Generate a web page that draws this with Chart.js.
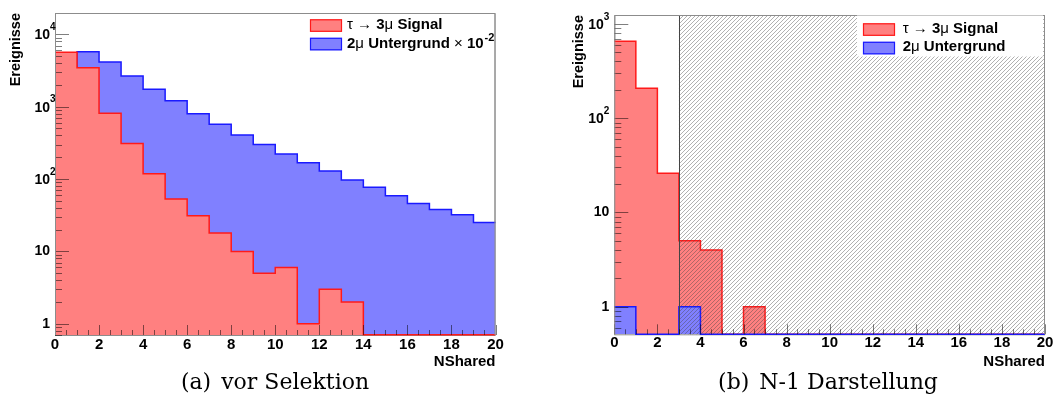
<!DOCTYPE html>
<html>
<head>
<meta charset="utf-8">
<script src="https://cdn.jsdelivr.net/npm/chart.js@4.4.1/dist/chart.umd.min.js"></script>
<style>
    body { margin: 0; background: #fff; width: 1053px; height: 396px; position: relative; overflow: hidden; }
    .panel { position: absolute; top: 0; }
    #panelA { left: 0; }
    #panelB { left: 527px; }
    .caption {
        position: absolute; top: 368px; height: 28px; line-height: 28px;
        font-family: "DejaVu Serif", serif; font-size: 22px; color: #000;
        white-space: nowrap; transform: translateX(-50%);
    }
    .caption span { margin-right: 3px; }
</style>
</head>
<body>
<div class="panel" id="panelA"><canvas id="chartA" width="520" height="396"></canvas></div>
<div class="panel" id="panelB"><canvas id="chartB" width="526" height="396"></canvas></div>
<div class="caption" style="left:275px"><span>(a)</span> vor Selektion</div>
<div class="caption" style="left:828px"><span>(b)</span> N-1 Darstellung</div>

<script>
// bin edges of NShared (20 bins of width 1)
const binEdges = [0, 1, 2, 3, 4, 5, 6, 7, 8, 9, 10, 11, 12, 13, 14, 15, 16, 17, 18, 19, 20];
const xTickLabels = [0, 2, 4, 6, 8, 10, 12, 14, 16, 18, 20];

// (a) vor Selektion
const signalAll = [5650, 3460, 810, 311, 118, 53, 31, 18, 10, 5, 6, 1, 3, 2, 0, 0, 0, 0, 0, 0];
const backgroundAll = [2360, 5750, 4150, 2650, 1740, 1210, 800, 570, 406, 301, 222, 168, 129, 97, 77, 59, 46, 38, 32, 25];
const yDecadesA = [1, 10, 100, 1000, 10000];
const legendLabelsA = ['τ → 3μ Signal', '2μ Untergrund × 10^-2'];

// (b) N-1 Darstellung
const signalN1 = [655, 208, 26, 5, 4, 0, 1, 0, 0, 0, 0, 0, 0, 0, 0, 0, 0, 0, 0, 0];
const backgroundN1 = [1, 0, 0, 1, 0, 0, 0, 0, 0, 0, 0, 0, 0, 0, 0, 0, 0, 0, 0, 0];
const yDecadesB = [1, 10, 100, 1000];
const legendLabelsB = ['τ → 3μ Signal', '2μ Untergrund'];
const cutN1 = 3;

const RED_LINE = '#ff1a1a';
const RED_FILL = '#ff8080';
const BLUE_LINE = '#1a1aff';
const BLUE_FILL = '#8080ff';
const FRAME = '#8c8c8c';
const FONT = '"Liberation Sans", Arial, sans-serif';


// ROOT-like histogram outline: each value is held until the next bin edge
function histPoints(values, floor) {
    const pts = values.map((v, i) => ({ x: binEdges[i], y: v > 0 ? v : floor }));
    const last = values[values.length - 1];
    pts.push({ x: binEdges[values.length], y: last > 0 ? last : floor });
    return pts;
}

function makeHatch() {
    const c = document.createElement('canvas');
    c.width = 4; c.height = 4;
    const g = c.getContext('2d');
    g.strokeStyle = 'rgba(70,70,70,0.42)';
    g.lineWidth = 1;
    g.beginPath();
    g.moveTo(-1, 5); g.lineTo(5, -1);
    g.moveTo(-1, 1); g.lineTo(1, -1);
    g.moveTo(3, 5); g.lineTo(5, 3);
    g.stroke();
    return c;
}

// text with bold latin and plain greek/symbols, "^" starts a superscript
function drawRich(ctx, text, x, y, size) {
    const [base, sup] = text.split('^');
    ctx.textBaseline = 'middle';
    ctx.textAlign = 'left';
    for (const ch of base) {
        const plain = 'τμ→×'.includes(ch);
        ctx.font = (plain ? '' : 'bold ') + size + 'px ' + FONT;
        ctx.fillText(ch, x, y);
        x += ctx.measureText(ch).width;
    }
    if (sup) {
        ctx.font = 'bold ' + Math.round(size * 0.7) + 'px ' + FONT;
        ctx.fillText(sup, x + 1, y - size * 0.4);
    }
}

function makeDecor(cfg) {
    return {
        id: 'rootDecor',
        beforeDatasetsDraw(chart) {
            const { ctx, chartArea: a } = chart;
            ctx.save();
            ctx.strokeStyle = FRAME;
            ctx.lineWidth = 1;
            ctx.strokeRect(a.left + 0.5, a.top + 0.5, a.right - a.left - 1, a.bottom - a.top);
            ctx.restore();
        },
        afterDatasetsDraw(chart) {
            const { ctx, chartArea: a } = chart;
            const xs = chart.scales.x, ys = chart.scales.y;
            ctx.save();

            // excluded region of the N-1 cut
            if (cfg.cut !== undefined) {
                const xc = xs.getPixelForValue(cfg.cut);
                ctx.fillStyle = ctx.createPattern(makeHatch(), 'repeat');
                ctx.fillRect(xc, a.top, a.right - xc, a.bottom - a.top);
                ctx.strokeStyle = '#444';
                ctx.lineWidth = 1;
                ctx.beginPath();
                ctx.moveTo(Math.round(xc) + 0.5, a.top);
                ctx.lineTo(Math.round(xc) + 0.5, a.bottom);
                ctx.stroke();
            }

            // ticks inside the frame
            ctx.strokeStyle = 'rgba(0,0,0,0.5)';
            ctx.lineWidth = 1;
            ctx.beginPath();
            for (let v = 0; v <= 20; v += 0.5) {
                const px = Math.round(xs.getPixelForValue(v)) + 0.5;
                const len = v % 2 === 0 ? 10 : 5;
                ctx.moveTo(px, a.bottom);
                ctx.lineTo(px, a.bottom - len);
            }
            const d0 = Math.floor(Math.log10(ys.min)), d1 = Math.ceil(Math.log10(ys.max));
            for (let d = d0; d <= d1; d++) {
                for (let k = 1; k <= 9; k++) {
                    const v = k * Math.pow(10, d);
                    if (v < ys.min || v > ys.max) continue;
                    const py = Math.round(ys.getPixelForValue(v)) + 0.5;
                    ctx.moveTo(a.left, py);
                    ctx.lineTo(a.left + (k === 1 ? 14 : 7), py);
                }
            }
            ctx.stroke();

            // frame on top of the fills (top, left, right)
            ctx.strokeStyle = FRAME;
            ctx.beginPath();
            ctx.moveTo(a.left + 0.5, a.bottom);
            ctx.lineTo(a.left + 0.5, a.top + 0.5);
            ctx.lineTo(a.right - 0.5, a.top + 0.5);
            ctx.lineTo(a.right - 0.5, a.bottom);
            ctx.stroke();

            // legend
            const L = cfg.legend;
            if (L.box) {
                ctx.fillStyle = '#fff';
                ctx.fillRect(L.box[0], L.box[1], L.box[2], L.box[3]);
            }
            chart.data.datasets.forEach((ds, i) => {
                const ry = L.rows[i];
                ctx.fillStyle = ds.backgroundColor;
                ctx.fillRect(L.x, ry - 6, 32, 12.5);
                ctx.strokeStyle = ds.borderColor;
                ctx.lineWidth = 1.2;
                ctx.strokeRect(L.x + 0.5, ry - 5.5, 31, 11.5);
                ctx.fillStyle = '#000';
                drawRich(ctx, ds.label, L.textX, L.textRows[i], 15);
            });

            // x tick labels and title
            ctx.fillStyle = '#000';
            ctx.font = 'bold 15px ' + FONT;
            ctx.textAlign = 'center';
            ctx.textBaseline = 'middle';
            xTickLabels.forEach(v => ctx.fillText(String(v), xs.getPixelForValue(v), a.bottom + cfg.xLabelOffset));
            ctx.textAlign = 'right';
            ctx.fillText('NShared', a.right, 361.5);

            // y tick labels (10 with exponent)
            cfg.decades.forEach(v => {
                const py = ys.getPixelForValue(v);
                const e = Math.round(Math.log10(v));
                ctx.font = 'bold 14px ' + FONT;
                ctx.textAlign = 'right';
                if (e <= 1) {
                    ctx.fillText(String(v), a.left - 5, py);
                } else {
                    ctx.font = 'bold 10px ' + FONT;
                    const we = ctx.measureText(String(e)).width;
                    const right = cfg.supInside ? a.left - 5 - we : a.left - 5;
                    ctx.fillText(String(e), right + we, py - 7);
                    ctx.font = 'bold 14px ' + FONT;
                    ctx.fillText('10', right, py + 1);
                }
            });

            // y title
            ctx.save();
            ctx.translate(cfg.yTitle[0], cfg.yTitle[1]);
            ctx.rotate(-Math.PI / 2);
            ctx.font = 'bold 14.5px ' + FONT;
            ctx.textAlign = 'right';
            ctx.textBaseline = 'middle';
            ctx.fillText('Ereignisse', 0, 0);
            ctx.restore();

            ctx.restore();
        }
    };
}

function histChart(canvas, g, sets, cfg) {
    return new Chart(canvas, {
        type: 'line',
        data: {
            datasets: sets.map(s => ({
                label: s.label,
                data: histPoints(s.values, g.yMin),
                borderColor: s.line,
                backgroundColor: s.fill,
                borderWidth: 1.5,
                pointRadius: 0,
                stepped: true,
                fill: 'start',
                order: s.order,
                clip: false
            }))
        },
        options: {
            responsive: false,
            animation: false,
            events: [],
            layout: { padding: { top: g.top, right: g.right, left: 0, bottom: 0 } },
            plugins: { legend: { display: false }, tooltip: { enabled: false } },
            scales: {
                x: {
                    type: 'linear', min: 0, max: 20,
                    ticks: { display: false }, grid: { display: false }, border: { display: false },
                    afterFit: s => { s.height = g.xHeight; }
                },
                y: {
                    type: 'logarithmic', min: g.yMin, max: g.yMax,
                    ticks: { display: false }, grid: { display: false }, border: { display: false },
                    afterFit: s => { s.width = g.yWidth; }
                }
            }
        },
        plugins: [makeDecor(cfg)]
    });
}

histChart(document.getElementById('chartA'),
    { top: 13, right: 24.5, yWidth: 55, xHeight: 61, yMin: 0.705, yMax: 19700 },
    [
        { label: legendLabelsA[0], values: signalAll, line: RED_LINE, fill: RED_FILL, order: 0 },
        { label: legendLabelsA[1], values: backgroundAll, line: BLUE_LINE, fill: BLUE_FILL, order: 1 }
    ],
    {
        decades: yDecadesA, supInside: false, xLabelOffset: 10, yTitle: [16, 13],
        legend: { x: 310, rows: [25.3, 43.8], textX: 347, textRows: [25, 44] }
    });

histChart(document.getElementById('chartB'),
    { top: 15, right: 8, yWidth: 87.3, xHeight: 61.7, yMin: 0.509, yMax: 1245 },
    [
        { label: legendLabelsB[0], values: signalN1, line: RED_LINE, fill: RED_FILL, order: 1 },
        { label: legendLabelsB[1], values: backgroundN1, line: BLUE_LINE, fill: BLUE_FILL, order: 0 }
    ],
    {
        decades: yDecadesB, supInside: true, xLabelOffset: 8.5, yTitle: [52, 15], cut: cutN1,
        legend: { x: 336, rows: [29.3, 47.8], textX: 375.7, textRows: [29.3, 46.7], box: [330, 15.5, 186, 41] }
    });
</script>
</body>
</html>
